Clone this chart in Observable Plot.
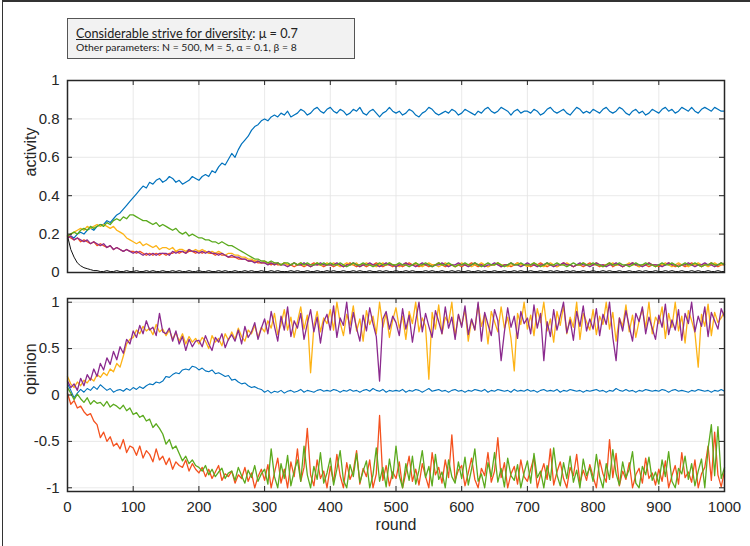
<!DOCTYPE html>
<html><head><meta charset="utf-8">
<script src="https://cdn.jsdelivr.net/npm/d3@7"></script>
<script src="https://cdn.jsdelivr.net/npm/@observablehq/plot@0.6"></script>
<style>
body{margin:0;background:#fff;}
#fig{position:relative;width:750px;height:546px;overflow:hidden;background:#fff;}
#border{position:absolute;left:2px;top:0;width:760px;height:560px;border-left:1.5px solid #333;border-top:2px solid #333;box-sizing:border-box;}
#box{position:absolute;left:67px;top:18px;width:288px;height:41px;background:#f2f2f2;border:1.5px solid #555;box-sizing:border-box;font-family:Lato,"Open Sans",sans-serif;color:#222;}
#l1{position:absolute;left:8px;top:6px;font-size:12.7px;white-space:nowrap;}
#l2{position:absolute;left:8px;top:22px;font-size:10.4px;white-space:nowrap;}
#p1{position:absolute;left:0;top:70px;}
#p2{position:absolute;left:0;top:288px;}
</style></head>
<body>
<div id="fig">
<div id="border"></div>
<div id="box"><div id="l1"><span style="text-decoration:underline">Considerable strive for diversity</span>: μ = 0.7</div><div id="l2">Other parameters: N = 500, M = 5, α = 0.1, β = 8</div></div>
<div id="p1"></div>
<div id="p2"></div>
</div>
<script>
const rounds = d3.range(0, 1001, 5);
const xTicks = [0,100,200,300,400,500,600,700,800,900,1000];
const yTicksActivity = [0,0.2,0.4,0.6,0.8,1];
const yTicksOpinion = [-1,-0.5,0,0.5,1];
const colors = {blue:"#0072BD", red:"#F4511E", yellow:"#FDB316", purple:"#8B2A8E", green:"#5BAA1E", black:"#111"};

// ---- activity (top panel) ----
const actBlue = [
.18,.19,.18,.20,.21,.20,.22,.23,.22,.24,.25,.25,.27,.26,.28,.30,.31,.33,.35,.37,
.39,.41,.43,.45,.44,.47,.46,.48,.49,.47,.48,.50,.49,.47,.48,.46,.47,.48,.50,.49,
.48,.50,.51,.50,.53,.52,.55,.57,.56,.59,.62,.60,.64,.67,.69,.71,.74,.76,.77,.79,
.80,.79,.81,.82,.81,.83,.82,.84,.81,.82,.83,.85,.84,.82,.83,.85,.86,.84,.83,.85,
.86,.84,.83,.85,.84,.82,.83,.85,.84,.86,.83,.82,.84,.85,.83,.81,.83,.84,.86,.84,
.83,.84,.82,.83,.85,.84,.82,.81,.83,.84,.86,.85,.83,.82,.83,.84,.83,.85,.84,.82,
.83,.85,.84,.83,.82,.84,.83,.85,.86,.84,.83,.84,.86,.85,.84,.82,.84,.85,.83,.84,
.84,.83,.85,.84,.82,.83,.85,.86,.84,.83,.84,.85,.83,.82,.84,.86,.85,.83,.84,.83,
.85,.84,.83,.85,.86,.84,.83,.84,.86,.85,.83,.82,.84,.85,.83,.84,.82,.83,.85,.84,
.83,.85,.86,.84,.85,.83,.84,.86,.85,.84,.86,.84,.83,.85,.86,.85,.84,.86,.85,.84,
.84];
const actRed = [
.19,.18,.17,.18,.16,.17,.16,.15,.16,.14,.15,.14,.13,.14,.12,.13,.12,.11,.12,.11,
.11,.10,.11,.10,.09,.10,.09,.10,.09,.10,.09,.10,.10,.11,.10,.11,.10,.11,.11,.10,
.11,.10,.11,.10,.10,.09,.10,.09,.09,.08,.08,.08,.07,.07,.07,.06,.06,.06,.05,.05,
.05,.05,.04,.05,.04,.04,.05,.04,.04,.03,.04,.04,.03,.04,.04,.05,.04,.04,.03,.04,
.04,.03,.04,.04,.03,.04,.05,.04,.03,.04,.04,.03,.04,.04,.05,.04,.03,.04,.04,.03,
.04,.04,.03,.04,.05,.04,.04,.03,.04,.04,.03,.04,.04,.05,.04,.03,.04,.04,.03,.04,
.03,.04,.04,.05,.04,.03,.04,.04,.03,.04,.04,.05,.03,.04,.04,.03,.04,.05,.04,.04,
.04,.03,.04,.04,.05,.04,.03,.04,.04,.03,.04,.05,.04,.04,.03,.04,.04,.03,.04,.05,
.04,.04,.03,.04,.04,.05,.03,.04,.04,.03,.04,.04,.05,.04,.03,.04,.04,.03,.04,.04,
.03,.04,.04,.05,.04,.03,.04,.04,.03,.04,.05,.04,.04,.03,.04,.04,.05,.04,.03,.04,
.04];
const actYellow = [
.19,.20,.21,.22,.23,.22,.24,.23,.24,.25,.24,.25,.24,.23,.24,.22,.21,.20,.18,.17,
.16,.15,.16,.14,.15,.14,.13,.14,.12,.13,.13,.12,.13,.11,.12,.12,.11,.12,.11,.12,
.11,.12,.11,.10,.11,.10,.11,.10,.09,.10,.10,.09,.09,.08,.08,.07,.07,.06,.06,.05,
.06,.05,.05,.04,.05,.04,.05,.04,.04,.05,.04,.05,.04,.04,.03,.04,.05,.04,.04,.05,
.04,.05,.04,.03,.04,.05,.04,.04,.05,.03,.04,.05,.04,.04,.03,.04,.05,.04,.05,.04,
.04,.03,.04,.05,.04,.04,.05,.04,.03,.04,.05,.04,.04,.03,.04,.05,.04,.04,.03,.04,
.05,.04,.04,.03,.04,.04,.05,.04,.03,.04,.04,.05,.04,.04,.03,.04,.04,.05,.04,.04,
.03,.04,.05,.04,.04,.03,.04,.05,.04,.03,.04,.04,.05,.04,.03,.04,.04,.05,.04,.04,
.04,.05,.04,.03,.04,.04,.05,.04,.04,.03,.04,.05,.04,.04,.03,.04,.04,.05,.04,.03,
.04,.04,.05,.04,.03,.04,.05,.04,.04,.03,.04,.04,.05,.04,.04,.03,.04,.05,.04,.04,
.05];
const actPurple = [
.18,.19,.17,.18,.17,.16,.17,.15,.16,.15,.14,.15,.13,.14,.12,.13,.12,.11,.12,.11,
.10,.11,.10,.09,.10,.09,.10,.09,.10,.10,.10,.09,.11,.10,.11,.11,.10,.12,.11,.11,
.10,.11,.10,.11,.10,.10,.09,.10,.09,.08,.09,.08,.08,.07,.07,.06,.06,.05,.06,.05,
.05,.04,.05,.04,.05,.04,.04,.03,.04,.05,.04,.04,.05,.04,.03,.04,.04,.05,.04,.04,
.04,.04,.05,.04,.03,.04,.04,.05,.04,.03,.04,.04,.05,.04,.04,.03,.04,.05,.04,.04,
.03,.04,.04,.05,.04,.04,.03,.04,.05,.04,.04,.03,.04,.04,.05,.04,.03,.04,.04,.05,
.04,.04,.03,.04,.05,.04,.04,.03,.04,.04,.05,.04,.03,.04,.04,.05,.04,.04,.03,.04,
.05,.04,.04,.03,.04,.04,.05,.04,.03,.04,.04,.05,.04,.04,.03,.04,.05,.04,.04,.03,
.04,.05,.04,.04,.03,.04,.04,.05,.04,.03,.04,.04,.05,.04,.04,.03,.04,.05,.04,.04,
.04,.03,.04,.05,.04,.04,.03,.04,.04,.05,.04,.03,.04,.04,.05,.04,.04,.03,.04,.05,
.04];
const actGreen = [
.19,.20,.21,.20,.22,.23,.22,.24,.23,.24,.25,.24,.26,.25,.27,.28,.27,.29,.28,.30,
.30,.29,.28,.27,.27,.26,.25,.26,.24,.25,.24,.23,.22,.23,.21,.20,.21,.19,.20,.19,
.18,.18,.17,.17,.16,.16,.15,.16,.15,.14,.14,.13,.12,.11,.10,.09,.08,.07,.07,.06,
.06,.05,.06,.05,.05,.04,.05,.05,.04,.05,.04,.05,.04,.05,.04,.04,.05,.04,.05,.04,
.05,.04,.04,.05,.04,.03,.04,.05,.04,.04,.05,.04,.04,.03,.04,.05,.04,.04,.05,.04,
.04,.05,.04,.04,.03,.04,.05,.04,.04,.05,.04,.03,.04,.05,.04,.04,.05,.04,.03,.04,
.04,.05,.04,.04,.05,.04,.03,.04,.05,.04,.04,.05,.04,.03,.04,.05,.04,.04,.05,.04,
.04,.04,.05,.04,.03,.04,.05,.04,.04,.05,.04,.04,.03,.04,.05,.04,.04,.05,.04,.04,
.05,.04,.04,.03,.04,.05,.04,.04,.05,.04,.04,.03,.04,.05,.04,.04,.05,.04,.04,.03,
.04,.05,.04,.04,.05,.04,.03,.04,.05,.04,.04,.05,.04,.03,.04,.04,.05,.04,.04,.05,
.04];
const actBlack = [
.19,.12,.08,.05,.035,.025,.02,.015,.01,.01,.005,.005,.01,.005,.005,.01,.005,.005,.01,.005,
.005,.01,.005,.005,.01,.005,.01,.005,.005,.01,.005,.005,.01,.005,.01,.005,.005,.01,.005,.005,
.01,.005,.005,.01,.005,.005,.01,.005,.01,.005,.005,.01,.005,.005,.01,.005,.01,.005,.005,.01,
.005,.005,.01,.005,.01,.005,.005,.005,.01,.005,.01,.005,.005,.01,.005,.005,.01,.005,.005,.01,
.005,.01,.005,.005,.01,.005,.005,.01,.005,.01,.005,.005,.01,.005,.005,.01,.005,.01,.005,.005,
.01,.005,.005,.01,.005,.01,.005,.005,.005,.01,.005,.01,.005,.005,.01,.005,.005,.01,.005,.01,
.005,.005,.01,.005,.005,.01,.005,.01,.005,.005,.01,.005,.005,.01,.005,.005,.01,.005,.01,.005,
.005,.01,.005,.005,.01,.005,.005,.01,.005,.01,.005,.005,.01,.005,.01,.005,.005,.01,.005,.005,
.01,.005,.005,.01,.005,.01,.005,.005,.01,.005,.005,.01,.005,.005,.01,.005,.01,.005,.005,.01,
.005,.005,.01,.005,.01,.005,.005,.01,.005,.005,.01,.005,.01,.005,.005,.01,.005,.005,.01,.005,
.005];

// ---- opinion (bottom panel) ----
const opBlue = [
.12,.05,-.03,.02,.06,.03,.07,.05,.09,.06,.11,.08,.05,.07,.03,.05,.06,.04,.07,.05,
.08,.06,.09,.07,.10,.12,.11,.14,.13,.15,.20,.19,.22,.24,.23,.27,.28,.27,.31,.30,
.27,.29,.26,.25,.27,.23,.24,.22,.20,.21,.16,.17,.14,.12,.13,.10,.08,.09,.07,.06,
.03,.05,.02,.04,.03,.05,.02,.04,.05,.03,.04,.06,.03,.05,.04,.03,.05,.06,.04,.05,
.04,.06,.05,.03,.05,.04,.06,.04,.05,.03,.05,.06,.04,.07,.05,.04,.06,.03,.05,.04,
.05,.04,.06,.03,.05,.04,.06,.05,.03,.05,.07,.04,.05,.06,.04,.05,.03,.05,.06,.04,
.05,.03,.05,.04,.06,.05,.04,.06,.03,.05,.04,.06,.05,.04,.05,.03,.06,.04,.05,.04,
.06,.04,.05,.03,.05,.06,.04,.05,.04,.06,.03,.05,.04,.06,.05,.04,.05,.03,.05,.04,
.05,.06,.04,.05,.03,.05,.04,.07,.05,.04,.06,.04,.05,.03,.05,.04,.06,.05,.04,.05,
.04,.06,.05,.03,.05,.06,.04,.05,.04,.03,.05,.04,.06,.05,.04,.05,.03,.05,.04,.06,
.04];
const opRed = [
.02,-.10,-.06,-.14,-.12,-.18,-.22,-.20,-.28,-.32,-.46,-.40,-.50,-.45,-.55,-.52,-.58,-.48,-.62,-.55,
-.57,-.65,-.55,-.68,-.60,-.64,-.72,-.58,-.70,-.66,-.75,-.68,-.80,-.72,-.76,-.78,-.70,-.82,-.74,-.80,
-.84,-.78,-.88,-.80,-.90,-.83,-.76,-.92,-.85,-.88,-.82,-.95,-.86,-.90,-.78,-.93,-.84,-1.0,-.88,-.80,
-.92,-.75,-1.0,-.84,-.68,-.95,-.80,-1.0,-.72,-.88,-.58,-.93,-.78,-.36,-.86,-.98,-.70,-.90,-.82,-1.0,
-.77,-.94,-.64,-.87,-1.0,-.73,-.91,-.82,-.60,-.96,-.79,-.88,-.70,-1.0,-.85,-.22,-.92,-.76,-.98,-.83,
-.90,-.72,-1.0,-.84,-.66,-.93,-.80,-.97,-.74,-.88,-1.0,-.62,-.86,-.78,-.95,-.70,-.89,-.43,-.92,-.81,
-.76,-.98,-.84,-.68,-.91,-1.0,-.79,-.87,-.62,-.94,-.82,-.46,-.89,-.73,-1.0,-.85,-.77,-.96,-.70,-.88,
-.93,-.80,-.67,-1.0,-.86,-.74,-.91,-.58,-.97,-.83,-.72,-.90,-1.0,-.78,-.87,-.64,-.95,-.81,-.92,-.75,
-.88,-1.0,-.70,-.85,-.94,-.48,-.89,-.63,-.98,-.82,-.91,-.73,-1.0,-.86,-.79,-.95,-.68,-.90,-.84,-.97,
-.80,-.93,-.71,-1.0,-.87,-.76,-.96,-.62,-.89,-.83,-.94,-.70,-1.0,-.85,-.78,-.55,-.92,-.40,-.86,-.99,
-.82];
const opYellow = [
.20,.12,.08,.14,.10,.16,.13,.18,.15,.22,.19,.24,.21,.28,.25,.34,.30,.42,.55,.60,
.62,.70,.66,.74,.69,.72,.65,.76,.68,.71,.64,.70,.60,.67,.58,.66,.55,.63,.57,.61,
.55,.62,.58,.50,.64,.57,.61,.53,.66,.59,.68,.60,.72,.63,.58,.70,.66,.75,.62,.73,
.68,.80,.72,.88,.65,.76,.92,.70,.84,.62,.79,.95,.71,.86,.24,.74,.90,.68,.83,.77,
.92,.70,1.0,.78,.64,.87,.75,.96,.69,.82,.58,.91,.76,.85,.66,1.0,.73,.88,.62,.81,
.94,.72,.85,.60,.90,.77,1.0,.68,.83,.74,.17,.89,.71,.97,.66,.84,.78,1.0,.63,.86,
.75,.92,.58,.81,.70,.98,.74,.87,.55,.90,.79,.68,.95,.72,.84,.61,.26,.88,.76,1.0,
.71,.86,.64,.93,.78,1.0,.69,.82,.57,.90,.75,.96,.66,.84,.73,1.0,.60,.88,.79,.70,
.92,.65,.85,.76,1.0,.71,.89,.58,.83,.74,.97,.68,.86,.62,.80,.93,.72,1.0,.66,.84,
.77,.95,.61,.88,.73,1.0,.69,.85,.56,.91,.80,.67,.30,.87,.74,.98,.64,.89,.78,.83,
.90];
const opPurple = [
.15,.08,.12,.05,.18,.10,.22,.16,.28,.20,.34,.27,.40,.33,.47,.38,.52,.45,.60,.55,
.69,.62,.75,.66,.80,.70,.73,.64,.88,.68,.66,.72,.58,.69,.55,.63,.48,.60,.52,.58,
.59,.52,.64,.55,.48,.62,.57,.66,.51,.60,.65,.58,.70,.55,.74,.62,.68,.78,.60,.72,
.82,.66,.90,.74,.58,.85,.70,.95,.63,.80,.72,.88,.60,.77,.92,.68,.84,.56,.79,.87,
.70,.96,.62,.83,.75,1.0,.66,.89,.72,.58,.86,.69,.94,.77,.63,.15,.82,.90,.71,.85,
.78,.64,.93,.71,.86,.57,.80,1.0,.68,.88,.74,.62,.91,.79,.66,.95,.72,.84,.60,.87,
.73,.96,.65,.82,.70,1.0,.58,.89,.76,.64,.92,.80,.37,.68,.94,.73,.85,.61,.90,.77,
.83,.66,.97,.72,.88,.37,.79,.63,.92,.70,.85,1.0,.67,.81,.59,.90,.74,.96,.69,.82,
.71,.93,.64,.87,.76,1.0,.62,.37,.83,.69,.91,.74,.58,.88,.79,.95,.66,.84,.72,.60,
.86,.73,.98,.65,.81,.70,.92,.59,.88,.77,1.0,.68,.85,.74,.95,.63,.89,.80,.71,.93,
.84];
const opGreen = [
.08,.02,-.05,.01,-.04,-.08,-.03,-.10,-.06,-.09,-.08,-.12,-.07,-.13,-.10,-.12,-.15,-.11,-.17,-.14,
-.21,-.19,-.24,-.22,-.28,-.26,-.35,-.31,-.36,-.42,-.53,-.48,-.58,-.55,-.63,-.71,-.66,-.74,-.70,-.76,
-.78,-.82,-.76,-.86,-.80,-.88,-.83,-.79,-.90,-.84,-.82,-.92,-.78,-.87,-.95,-.81,-.89,-.76,-.93,-.85,
-.80,-.96,-.58,-.88,-1.0,-.74,-.90,-.65,-.98,-.82,-.70,-.93,-.55,-.86,-1.0,-.77,-.91,-.62,-.95,-.84,
-.68,-.97,-.80,-.60,-.92,-1.0,-.75,-.88,-.63,-.94,-.82,-.71,-1.0,-.86,-.57,-.93,-.78,-.99,-.69,-.90,
-.55,-.87,-1.0,-.74,-.92,-.66,-.96,-.81,-.60,-.89,-.77,-.98,-.64,-.91,-.83,-1.0,-.70,-.88,-.95,-.72,
-.90,-.67,-.97,-.80,-.58,-.93,-.85,-1.0,-.73,-.88,-.62,-.94,-.79,-.99,-.68,-.87,-.92,-.75,-1.0,-.84,
-.71,-.95,-.63,-.89,-.82,-1.0,-.76,-.92,-.57,-.86,-.98,-.73,-.90,-.66,-.94,-.81,-1.0,-.69,-.87,-.78,
-.93,-.64,-.88,-1.0,-.74,-.91,-.59,-.85,-.97,-.72,-.89,-.80,-.61,-.95,-1.0,-.77,-.86,-.67,-.92,-.83,
-.96,-.70,-.88,-.61,-.93,-1.0,-.79,-.85,-.66,-.91,-.74,-.98,-.82,-.69,-1.0,-.58,-.32,-.87,-.34,-.90,
-.78];

const activitySeries = [["blue",actBlue],["red",actRed],["yellow",actYellow],["purple",actPurple],["green",actGreen],["black",actBlack]];
const opinionSeries = [["blue",opBlue],["red",opRed],["yellow",opYellow],["purple",opPurple],["green",opGreen]];
for (const [n,a] of [...activitySeries,...opinionSeries]) if (a.length !== rounds.length) throw new Error(n+" length "+a.length);

const font = '"Liberation Sans", Arial, Helvetica, sans-serif';
const frameColor = "#262626";

function panel({series, yDomain, yTicks, yLabel, height, marginBottom, showX, widths}) {
  const W = 750, mL = 67, mR = 26, mT = 10;
  const innerH = height - mT - marginBottom, innerW = W - mL - mR;
  const lines = series.map(([c, vals]) =>
    Plot.line(vals.map((v, i) => ({round: rounds[i], value: v})),
      {x: "round", y: "value", stroke: colors[c], strokeWidth: widths[c] ?? 1}));
  const marks = [
    Plot.gridX(xTicks, {stroke: "#e3e3e3", strokeOpacity: 1, strokeWidth: 0.8}),
    Plot.gridY(yTicks, {stroke: "#e3e3e3", strokeOpacity: 1, strokeWidth: 0.8}),
    ...lines,
    Plot.tickX(xTicks, {x: d => d, stroke: frameColor, insetTop: innerH - 5}),
    Plot.tickX(xTicks, {x: d => d, stroke: frameColor, insetBottom: innerH - 5}),
    Plot.tickY(yTicks, {y: d => d, stroke: frameColor, insetRight: innerW - 5}),
    Plot.tickY(yTicks, {y: d => d, stroke: frameColor, insetLeft: innerW - 5}),
    Plot.axisY(yTicks, {tickSize: 0, tickPadding: 8, tickFormat: d => String(d), label: null, fontSize: 15, fill: "#262626"}),
    Plot.text([yLabel], {frameAnchor: "left", dx: -37, rotate: -90, fontSize: 16, fill: "#262626", text: d => d}),
    Plot.frame({stroke: frameColor, strokeWidth: 1.5})
  ];
  if (showX) {
    marks.push(Plot.axisX(xTicks, {tickSize: 0, tickPadding: 10, tickFormat: d => String(d), label: null, fontSize: 15, fill: "#262626"}));
    marks.push(Plot.text(["round"], {frameAnchor: "bottom", dy: 33, fontSize: 16, fill: "#262626", lineAnchor: "middle", text: d => d}));
  }
  return Plot.plot({
    width: W, height, marginLeft: mL, marginRight: mR, marginTop: mT, marginBottom,
    x: {domain: [0, 1000], axis: showX ? undefined : null},
    y: {domain: yDomain},
    style: {fontFamily: font, background: "transparent", overflow: "visible"},
    marks
  });
}

document.getElementById("p1").append(panel({series: activitySeries, yDomain: [0, 1], yTicks: yTicksActivity, yLabel: "activity", height: 212, marginBottom: 10, showX: false,
  widths: {blue: 1.2, red: 1.3, yellow: 1.3, purple: 1.3, green: 1.3, black: 1}}));
document.getElementById("p2").append(panel({series: opinionSeries, yDomain: [-1.04, 1.04], yTicks: yTicksOpinion, yLabel: "opinion", height: 258, marginBottom: 55, showX: true,
  widths: {blue: 1.1, red: 1.3, yellow: 1.3, purple: 1.3, green: 1.3}}));
</script>
</body></html>
